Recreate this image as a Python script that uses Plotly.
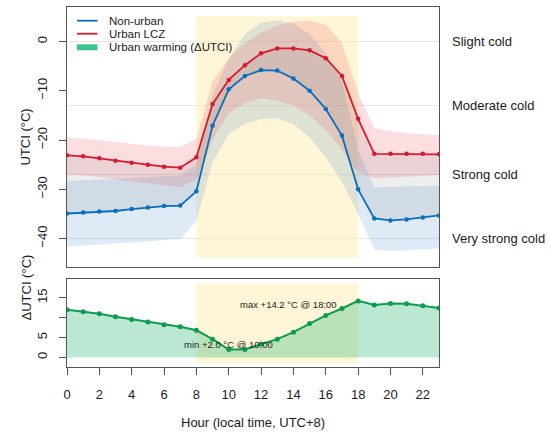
import plotly.graph_objects as go

# ---- data ----
hours = list(range(24))

nonurban = [-34.9, -34.7, -34.5, -34.4, -34.0, -33.7, -33.4, -33.3, -30.4, -17.1, -9.7, -7.0,
            -5.8, -5.9, -7.5, -10.0, -13.7, -19.1, -30.0, -35.9, -36.3, -36.1, -35.7, -35.3]
nonurban_hi = [-28.3, -28.1, -28.0, -27.9, -27.7, -27.5, -27.3, -27.2, -25.0, -11.0, -3.5, 1.5,
               3.8, 4.3, 3.6, 1.5, -2.5, -8.0, -22.0, -29.6, -29.5, -29.4, -29.3, -29.2]
nonurban_lo = [-41.6, -41.4, -41.2, -41.1, -40.9, -40.6, -40.3, -40.1, -36.5, -24.5, -18.8, -16.7,
               -15.8, -15.6, -16.8, -19.5, -23.5, -28.5, -35.0, -42.2, -42.5, -42.4, -42.2, -42.0]

urban = [-23.1, -23.3, -23.7, -24.2, -24.6, -25.0, -25.4, -25.6, -23.5, -12.7, -7.8, -4.8,
         -2.4, -1.4, -1.4, -1.8, -3.4, -7.0, -15.7, -22.8, -22.8, -22.8, -22.8, -22.9]
urban_hi = [-19.5, -19.7, -20.0, -20.4, -20.8, -21.1, -21.3, -21.4, -19.8, -8.0, -3.4, -0.3,
            1.8, 3.2, 4.0, 4.2, 3.4, -0.3, -10.5, -17.6, -18.2, -18.6, -18.8, -19.0]
urban_lo = [-27.0, -27.2, -27.5, -28.0, -28.4, -28.8, -29.2, -29.6, -28.0, -20.0, -14.5, -12.5,
            -11.5, -12.0, -13.0, -15.0, -18.0, -22.0, -26.5, -27.8, -27.6, -27.4, -27.2, -27.1]

delta = [12.0, 11.5, 10.95, 10.2, 9.55, 8.9, 8.2, 7.7, 6.85, 4.6, 2.0, 2.0,
         3.35, 4.6, 6.35, 8.55, 10.55, 12.3, 14.2, 13.15, 13.55, 13.5, 13.0, 12.4]

stress_levels = [0, -13, -27, -40]
stress_labels = ['Slight cold', 'Moderate cold', 'Strong cold', 'Very strong cold']

day_start, day_end = 8, 18

BLUE = '#0A6EBD'
RED = '#D7192F'
GREEN = '#0B9C4F'
FONT = 'Liberation Sans, Arial, sans-serif'
TXT = '#1a1a1a'
FRAME = '#555555'

W, H = 550, 436
L, R, T, B = 67, 111, 7, 69


# pixel -> paper helpers
def px(x):
    return (x - L) / (W - L - R)


def py(y):
    return (H - B - y) / (H - T - B)


fig = go.Figure()

# bands
fig.add_trace(go.Scatter(x=hours, y=nonurban_lo, mode='lines', line=dict(width=0),
                         showlegend=False, hoverinfo='skip'))
fig.add_trace(go.Scatter(x=hours, y=nonurban_hi, mode='lines', line=dict(width=0), fill='tonexty',
                         fillcolor='rgba(60,130,200,0.17)', showlegend=False, hoverinfo='skip'))
fig.add_trace(go.Scatter(x=hours, y=urban_lo, mode='lines', line=dict(width=0),
                         showlegend=False, hoverinfo='skip'))
fig.add_trace(go.Scatter(x=hours, y=urban_hi, mode='lines', line=dict(width=0), fill='tonexty',
                         fillcolor='rgba(235,60,80,0.17)', showlegend=False, hoverinfo='skip'))

# lines
fig.add_trace(go.Scatter(x=hours, y=nonurban, mode='lines+markers', name='Non-urban',
                         line=dict(color=BLUE, width=1.8), marker=dict(size=4.5, color=BLUE),
                         showlegend=False))
fig.add_trace(go.Scatter(x=hours, y=urban, mode='lines+markers', name='Urban LCZ',
                         line=dict(color=RED, width=1.8), marker=dict(size=4.5, color=RED),
                         fill='tonexty', fillcolor='rgba(120,120,120,0.13)', showlegend=False))

# bottom panel
fig.add_trace(go.Scatter(x=hours, y=delta, mode='lines+markers', name='Urban warming',
                         line=dict(color=GREEN, width=2), marker=dict(size=5, color=GREEN),
                         fill='tozeroy', fillcolor='rgba(30,180,110,0.3)',
                         xaxis='x2', yaxis='y2', showlegend=False))

shapes = [
    dict(type='rect', xref='x', yref='y', x0=day_start, x1=day_end, y0=-43.9, y1=5.1,
         fillcolor='rgba(255,228,140,0.35)', line=dict(width=0), layer='below'),
    dict(type='rect', xref='x2', yref='y2', x0=day_start, x1=day_end, y0=-1.4, y1=18.6,
         fillcolor='rgba(255,228,140,0.35)', line=dict(width=0), layer='below'),
]
for lv in stress_levels:
    shapes.append(dict(type='line', xref='x domain', yref='y', x0=0, x1=1, y0=lv, y1=lv,
                       line=dict(color='#e6e6e6', width=1), layer='below'))

# legend drawn by hand
leg_rows = [(20.7, 'Non-urban', BLUE, 1.8), (33.7, 'Urban LCZ', RED, 1.8),
            (47.3, 'Urban warming (ΔUTCI)', '#3DC48E', 6)]
annotations = []
for yy, label, col, lw in leg_rows:
    shapes.append(dict(type='line', xref='paper', yref='paper', x0=px(77), x1=px(97.5),
                       y0=py(yy), y1=py(yy), line=dict(color=col, width=lw)))
    annotations.append(dict(xref='paper', yref='paper', x=px(107), y=py(yy), text=label,
                            showarrow=False, xanchor='left', yanchor='middle',
                            font=dict(size=11.5, color=TXT)))

for lv, label in zip(stress_levels, stress_labels):
    annotations.append(dict(xref='paper', yref='y', x=px(450), y=lv, text=label, showarrow=False,
                            xanchor='left', yanchor='middle', font=dict(size=13, color=TXT)))

annotations += [
    dict(xref='x2', yref='y2', x=10, y=3.35, text='min +2.0 °C @ 10:00', showarrow=False,
         xanchor='center', yanchor='middle', font=dict(size=9.5, color=TXT)),
    dict(xref='x2', yref='y2', x=16.84, y=13.35, text='max +14.2 °C @ 18:00', showarrow=False,
         xanchor='right', yanchor='middle', font=dict(size=9.5, color=TXT)),
    dict(xref='paper', yref='paper', x=px(15), y=py(137), text='UTCI (°C)', textangle=-90,
         showarrow=False, font=dict(size=13, color=TXT)),
    dict(xref='paper', yref='paper', x=px(16), y=py(323), text='ΔUTCI (°C)', textangle=-90,
         showarrow=False, font=dict(size=13, color=TXT)),
    dict(xref='paper', yref='paper', x=px(253), y=py(422.7), text='Hour (local time, UTC+8)',
         showarrow=False, yanchor='middle', font=dict(size=13, color=TXT)),
]

axis_common = dict(showline=True, mirror=True, linecolor=FRAME, linewidth=1, showgrid=False,
                   zeroline=False)

fig.update_layout(
    width=W, height=H,
    margin=dict(l=L, r=R, t=T, b=B),
    plot_bgcolor='white', paper_bgcolor='white',
    font=dict(family=FONT, size=13, color=TXT),
    showlegend=False,
    shapes=shapes,
    annotations=annotations,
    xaxis=dict(range=[0, 23], domain=[0, 1], anchor='y', showticklabels=False, ticks='',
               **axis_common),
    yaxis=dict(range=[-45.7, 7.0], domain=[py(266.7), 1], anchor='x',
               tickvals=[-40, -30, -20, -10, 0], ticks='outside', ticklen=7, tickcolor=FRAME,
               tickangle=-90, ticklabelstandoff=7, **axis_common),
    xaxis2=dict(range=[0, 23], domain=[0, 1], anchor='y2', tickvals=list(range(0, 23, 2)),
                ticks='outside', ticklen=7, tickcolor=FRAME, ticklabelstandoff=8, **axis_common),
    yaxis2=dict(range=[-2.4, 19.7], domain=[0, py(279)], anchor='x2',
                tickvals=[0, 5, 10, 15], ticktext=['0', '5', '', '15'], ticks='outside',
                ticklen=7, tickcolor=FRAME, tickangle=-90, ticklabelstandoff=7, **axis_common),
)

# page body has an 8px default margin; drop it so the figure sits at the window corner
fig.write_html('out.html', config={'displayModeBar': False},
               post_script="document.body.style.margin='0';")
